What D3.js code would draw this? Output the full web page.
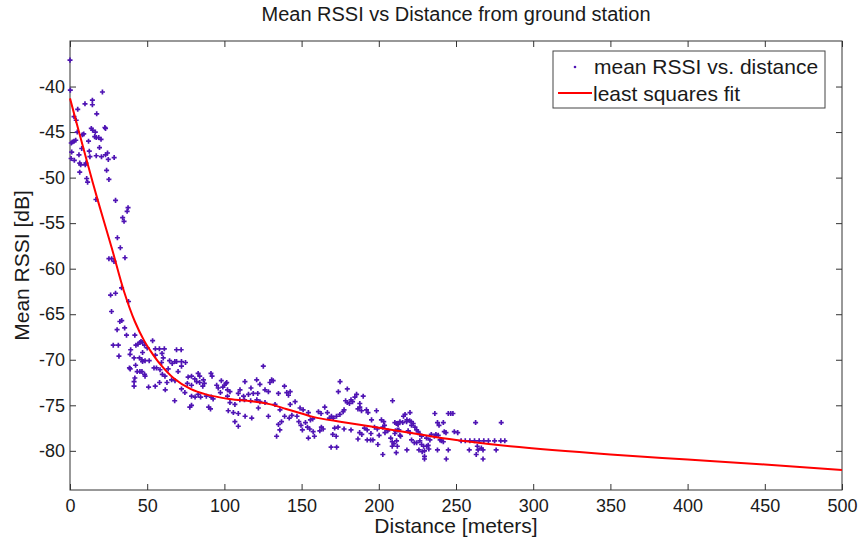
<!DOCTYPE html>
<html>
<head>
<meta charset="utf-8">
<script src="https://cdn.jsdelivr.net/npm/d3@7"></script>
<style>
  body { margin: 0; background: #fff; }
  svg text { font-family: Arial, "Liberation Sans", sans-serif; fill: #1a1a1a; }
</style>
</head>
<body>
<div id="chart"></div>
<script>
// mean RSSI samples: [distance (m), rssi (dB)]
const samples = [
  [0,-37.1],[0.2,-40.4],[5,-42.5],[2.6,-43.3],[4,-43.7],[9.7,-41.9],[14.5,-41.5],[14.5,-42],[17.3,-43],[21,-40.6],
  [4.7,-45],[0.8,-46.2],[1.6,-46.1],[2.6,-46],[3.7,-45.9],[1.1,-47.2],[0.7,-47.9],[2.8,-48.1],[5.8,-47.5],[6.3,-48.4],
  [6.9,-48.6],[6.3,-49.4],[8,-45.3],[8.9,-45.2],[7.6,-46.8],[10.3,-48.4],[9.9,-48.6],[12,-46],[12.5,-47.1],[12.9,-47.7],
  [10.8,-50.1],[11.4,-50.5],[13.8,-44.6],[14.7,-44.8],[16.4,-45],[16,-45.5],[17,-45.6],[18.6,-45.6],[20.1,-45.8],[19.1,-46.7],
  [17,-47.6],[20.4,-47.7],[22.6,-44.5],[23,-44.6],[23,-47.5],[24.3,-47.3],[24.8,-48],[28.6,-47.8],[23.7,-49.2],[25.2,-50.2],
  [16.8,-52.4],[29.5,-52.5],[37.6,-53.3],[37,-53.7],[34.1,-54.4],[35,-54.8],[30.7,-56.6],[32.6,-57.7],[25.2,-58.9],[27,-58.9],
  [28.5,-59.2],[35.6,-58.8],[33.4,-62.1],[29.5,-62.7],[26.3,-62.9],[37.9,-63.6],[26.9,-64.7],[32.3,-65.8],[33.5,-65.7],[30.5,-66.7],
  [35.4,-66.5],[36.6,-67.3],[28,-68.4],[31.3,-68.4],[31.7,-69.6],[42,-67.3],[39.3,-68.9],[42.7,-68.4],[44,-68.3],[46,-68],
  [38.9,-69.4],[41.5,-69.8],[45,-69.8],[38.5,-70.9],[39,-71],[42.5,-70.6],[43.5,-71.3],[46.6,-70],[42,-72],[41.5,-72.4],
  [41.5,-72.9],[46.6,-71.3],[48.3,-71.6],
  [45.3,-68.1],[47,-68.1],[48.3,-68.4],[53.5,-67.9],[50,-68.7],[47,-69.2],[48.6,-70.1],[47,-70.2],[51.3,-70.1],[55.3,-68.8],
  [57.9,-68.8],[61.1,-68.8],[69,-68.9],[72,-68.9],[55.3,-69.5],[59.6,-69.3],[54.4,-70.9],[56,-70.9],[58.3,-71.1],[60.4,-69.8],
  [59.3,-70.3],[64.5,-70.1],[66.2,-70.4],[67.9,-70.2],[69,-70.2],[72.2,-70.2],[74.8,-70.3],[72.2,-70.7],[70,-71.3],[63.6,-71],
  [59.8,-71.6],[61.5,-71.8],[65.8,-72.2],[68,-72.3],[48.6,-71.8],[45.3,-71.3],[50.9,-73],[55.2,-72.9],[58,-72.5],[62.8,-72.5],
  [61.7,-73.3],[76.5,-71.9],[78.7,-71.8],[80.8,-72.1],[83,-71.5],[84,-71.8],[91.3,-71.5],[92,-71.8],[86.4,-72.2],[82,-72.4],
  [84,-72.5],[87,-72.6],[86,-72.9],[76,-72.6],[78.7,-72.8],[72.2,-73.2],[74.4,-73.6],[78.7,-74],[81,-74.1],[83,-73.8],
  [84.6,-74.1],[88.3,-74],[91.5,-74.1],[92.7,-74.3],[95,-72.8],[96,-73.1],[98,-72.3],[99,-73],[100,-72.8],[101,-72.6],
  [102,-73.3],[67.8,-74.5],[77.6,-75.2],[78.7,-75],[89.8,-75.2],[91,-75.4],[97.4,-73.6],
  [125.2,-70.7],[130.6,-72.2],[131.6,-72.3],[129.5,-72.5],[101.5,-72.5],[113.3,-72.4],[120.9,-72.2],[123,-72.7],[126.3,-73.3],[117.2,-73.1],
  [118.7,-73.7],[110.1,-73.3],[109,-73.7],[103.6,-73.5],[102,-74],[112.4,-74],[115.6,-73.8],[121.6,-73.7],[128.5,-73.5],[135,-73.7],
  [138.9,-72.9],[140.4,-73.6],[141.5,-73.9],[142.6,-73.5],[110,-74.4],[113,-74.4],[117,-74.5],[121,-74.4],[123,-74.6],[126.3,-74.7],
  [103.6,-74.7],[106.8,-74.9],[132.8,-74.9],[136,-75.5],[145.8,-74.6],[142.6,-74.9],[149,-75.3],[151,-75.5],[154.4,-75.8],[102.5,-75.6],
  [105.8,-75.8],[109,-75.9],[113.4,-76.2],[117.7,-76.4],[122,-75.3],[128.5,-76.2],[139,-76.2],[142,-76.4],[143.7,-76.1],[147,-76.2],
  [148.2,-76.8],[152.5,-76.9],[155.7,-76.6],[157.2,-76.5],[106.8,-76.8],[109,-77.3],[135,-77.1],[137,-76.8],[135.9,-77.7],[149.6,-77.2],
  [150.5,-77.7],[153.8,-77.4],[155.3,-77.6],[157.5,-77.9],[133.8,-78.4],[154.4,-78.6],[158.3,-78.4],
  [174.9,-72.4],[173.8,-73.5],[179.6,-73.2],[185.6,-73.8],[184.5,-74.1],[189.9,-74],[178.5,-74.5],[179.6,-74.7],[182,-74.4],[183,-74.6],
  [181,-74.8],[187.7,-74.8],[208.9,-74.5],[165,-75.2],[166.7,-75.8],[169.3,-76.2],[168,-76.4],[162.6,-75.9],[160.9,-75.7],[176.9,-75.7],
  [177.5,-75.5],[174.8,-76],[172.6,-76.2],[170.5,-76.4],[186.5,-75.4],[187.7,-75.2],[188.8,-75.6],[192,-75.5],[193,-75.8],[198.5,-75.6],
  [195.3,-76.6],[201.7,-76.6],[203.2,-76.8],[211.4,-77],[212.5,-77.1],[162.8,-77.4],[161.8,-77.8],[164,-77.6],[171.4,-77.5],[173.6,-77.4],
  [177.5,-77.6],[182,-77.7],[190.7,-77.5],[192.5,-77.7],[197.2,-77.4],[199,-77.6],[202.6,-77.4],[203.7,-77.2],[204,-78],[205.8,-77.8],
  [210.8,-77.8],[213,-77.7],[170.2,-78.2],[172.4,-78.4],[187.6,-78],[189,-78.2],[194.9,-78.1],[200.2,-78.3],[207.7,-78.6],[208.7,-79],
  [214.1,-78.4],[186.5,-78.7],[192.5,-78.8],[194.7,-78.8],[196.2,-78.8],[199.4,-79.3],[209.8,-79.2],[212,-79.5],[208.7,-79.5],[169.1,-79.6],
  [172.7,-79.6],[202.6,-80.4],[211.3,-80.2],
  [220.2,-75.8],[217,-76],[216,-76.2],[218.2,-76.6],[213.7,-76.8],[215.5,-76.9],[218,-76.8],[220,-76.7],[221,-76.8],[210.4,-76.9],
  [212,-77],[222.3,-77],[221.2,-77.2],[236.3,-75.9],[245,-75.9],[246.6,-75.9],[248,-75.9],[238,-76.9],[239,-77.2],[241.8,-76.9],
  [262.7,-76.9],[279.3,-76.9],[223.4,-77.4],[224.5,-77.7],[225.5,-77.9],[212,-77.7],[213.7,-78.3],[210.4,-78.1],[219,-77.8],[220.2,-78],
  [226.6,-78.2],[227.7,-78.4],[234,-78.2],[236,-78.4],[237,-78.2],[238.5,-78.3],[242.4,-77.9],[243.5,-78],[248.9,-77.9],[251.1,-78],
  [230.9,-78.6],[233.1,-78.8],[239.7,-78.8],[240.6,-78.9],[241.8,-79],[221.2,-78.8],[223,-79.1],[224.5,-79.1],[226.6,-78.9],[227.7,-79.3],
  [229,-79.5],[231,-79.5],[232,-79.4],[253.3,-78.9],[256,-78.9],[259,-78.9],[262,-78.9],[265,-78.9],[268,-78.9],[271,-78.9],
  [275,-78.9],[279,-78.9],[281.6,-78.9],[263.8,-79.5],[266.4,-79.7],[267.5,-79.9],[264.3,-79.9],[218.2,-79.9],[226,-79.9],[228.1,-80.1],
  [229.6,-80],[232.4,-79.8],[238,-79.9],[245,-79.9],[258.6,-79.9],[276,-79.9],[229.6,-80.6],[229.6,-80.9],[263.1,-80.4],[267.5,-80.9],
  [243.7,-80.9],[211.5,-78.9]
];

// least squares fit curve
const fitDistance = [0, 10, 18, 27, 35, 42, 48, 52, 58, 67, 78, 88, 103, 120, 130, 140, 150, 158, 175, 194, 212, 232, 254, 285, 350, 400, 450, 500];
const fitRssi = [-41.3, -47.6, -52.5, -57.7, -62.5, -65.8, -67.9, -69.0, -70.4, -72.0, -73.2, -73.8, -74.3, -74.6, -74.9, -75.4, -75.9, -76.3, -76.8, -77.3, -77.8, -78.35, -78.9, -79.5, -80.4, -80.95, -81.5, -82.1];

const xTicks = [0, 50, 100, 150, 200, 250, 300, 350, 400, 450, 500];
const yTicks = [-80, -75, -70, -65, -60, -55, -50, -45, -40];

const width = 860;
const height = 540;
const margin = { top: 41, right: 18, bottom: 50, left: 70 };

const svg = d3.select('#chart').append('svg')
  .attr('width', width)
  .attr('height', height);

const x = d3.scaleLinear().domain([0, 500]).range([margin.left, width - margin.right]);
const y = d3.scaleLinear().domain([-84.3, -35]).range([height - margin.bottom, margin.top]);

const axisColor = '#333';
const plainNum = d => String(d); // hyphen minus, like the original

// box + ticks on all four sides (inward)
const styleAxis = g => {
  g.select('.domain').remove();
  g.selectAll('.tick line').attr('stroke', axisColor).attr('stroke-width', 1);
  g.selectAll('.tick text').attr('font-size', 18).style('fill', '#1a1a1a');
};

svg.append('g')
  .attr('transform', `translate(0,${y.range()[0]})`)
  .call(d3.axisBottom(x).tickValues(xTicks).tickSize(-6).tickPadding(9).tickFormat(plainNum))
  .call(styleAxis);

svg.append('g')
  .attr('transform', `translate(0,${y.range()[1]})`)
  .call(d3.axisTop(x).tickValues(xTicks).tickSize(-6).tickFormat(''))
  .call(styleAxis);

svg.append('g')
  .attr('transform', `translate(${x.range()[0]},0)`)
  .call(d3.axisLeft(y).tickValues(yTicks).tickSize(-6).tickPadding(5).tickFormat(plainNum))
  .call(styleAxis);

svg.append('g')
  .attr('transform', `translate(${x.range()[1]},0)`)
  .call(d3.axisRight(y).tickValues(yTicks).tickSize(-6).tickFormat(''))
  .call(styleAxis);

svg.append('rect')
  .attr('x', x.range()[0])
  .attr('y', y.range()[1])
  .attr('width', x.range()[1] - x.range()[0])
  .attr('height', y.range()[0] - y.range()[1])
  .attr('fill', 'none')
  .attr('stroke', axisColor)
  .attr('stroke-width', 1);

// scatter points
const cross = d3.symbol().type(d3.symbolCross).size(14);
svg.append('g')
  .selectAll('path')
  .data(samples)
  .enter()
  .append('path')
  .attr('d', cross)
  .attr('transform', d => `translate(${x(d[0])},${y(d[1])})`)
  .attr('fill', '#4f14b4');

// fit line
const fitPts = fitDistance.map((d, i) => [d, fitRssi[i]]);
const line = d3.line()
  .x(d => x(d[0]))
  .y(d => y(d[1]))
  .curve(d3.curveCatmullRom);

svg.append('path')
  .datum(fitPts)
  .attr('d', line)
  .attr('fill', 'none')
  .attr('stroke', '#ff0000')
  .attr('stroke-width', 2);

// title and axis labels
svg.append('text')
  .attr('x', (x.range()[0] + x.range()[1]) / 2)
  .attr('y', 21)
  .attr('text-anchor', 'middle')
  .attr('font-size', 20)
  .text('Mean RSSI vs Distance from ground station');

svg.append('text')
  .attr('x', (x.range()[0] + x.range()[1]) / 2)
  .attr('y', 533)
  .attr('text-anchor', 'middle')
  .attr('font-size', 21)
  .text('Distance [meters]');

svg.append('text')
  .attr('transform', `translate(29,${(y.range()[0] + y.range()[1]) / 2}) rotate(-90)`)
  .attr('text-anchor', 'middle')
  .attr('font-size', 21)
  .text('Mean RSSI [dB]');

// legend
const legend = svg.append('g');
legend.append('rect')
  .attr('x', 553).attr('y', 51)
  .attr('width', 272).attr('height', 57)
  .attr('fill', '#fff')
  .attr('stroke', '#444')
  .attr('stroke-width', 1);
legend.append('circle')
  .attr('cx', 575).attr('cy', 67).attr('r', 1.3)
  .attr('fill', '#4f14b4');
legend.append('text')
  .attr('x', 594).attr('y', 74)
  .attr('font-size', 21)
  .text('mean RSSI vs. distance');
legend.append('line')
  .attr('x1', 558).attr('x2', 592)
  .attr('y1', 93).attr('y2', 93)
  .attr('stroke', '#ff0000')
  .attr('stroke-width', 2);
legend.append('text')
  .attr('x', 593).attr('y', 101)
  .attr('font-size', 21)
  .text('least squares fit');
</script>
</body>
</html>
